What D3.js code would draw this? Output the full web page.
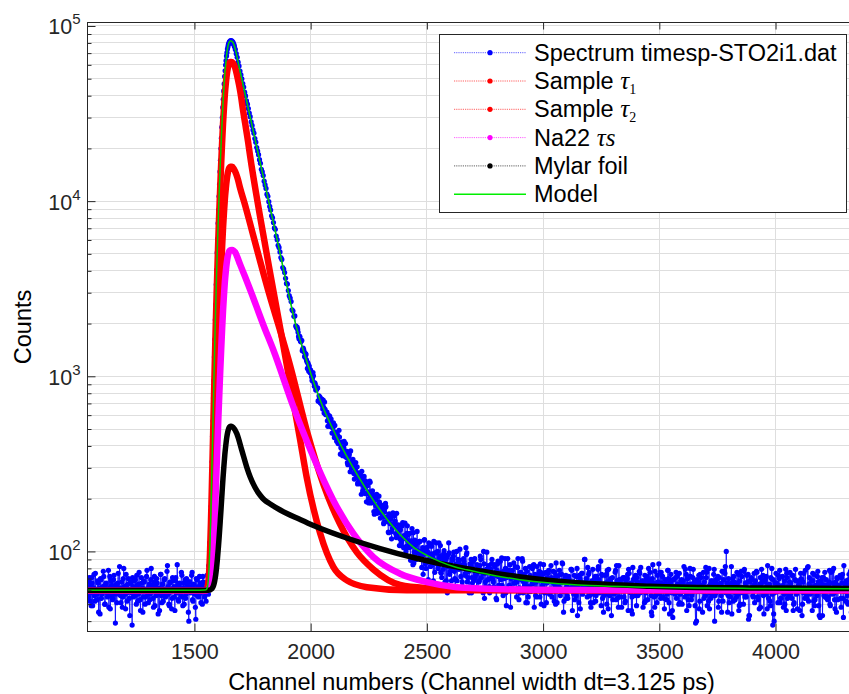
<!DOCTYPE html>
<html>
<head>
<meta charset="utf-8">
<script src="https://cdn.jsdelivr.net/npm/d3@7"></script>
<style>
body { margin: 0; background: #fff; }
svg { display: block; }
</style>
</head>
<body>
<div id="graph"></div>
<script>
// ---- data ----
var xTicks = [1500, 2000, 2500, 3000, 3500, 4000]
var yMajor = [1e2, 1e3, 1e4, 1e5]

// measured spectrum, stored in runs of evenly spaced channels
var specBaseStart = 1040, specBaseStep = 2
var specBase = [63,58,55,67,71,52,58,64,49,71,66,49,60,62,74,56,52,75,61,60,
  57,53,68,66,45,61,62,44,70,69,54,57,59,63,77,72,63,50,50,65,
  66,59,58,55,61,78,48,62,72,47,56,68,64,60,53,54,69,73,60,57,
  39,64,65,51,59,66,75,59,57,82,62,56,51,61,67,48,55,70,80,63,
  61,57,47,74,64,52,58,65,70,60,54,43,66,67,59,58,38,71,63,55,
  68,62,56,69,60,50,73,64,52,57,65,76,58,53,46,61,71,66,62,45,
  55,68,67,59,50,55,61,72,78,60,57,51,63,65,53,57,69,80,59,62,
  64,54,48,67,72,49,60,63,56,70,66,58,44,61,62,46,58,74,74,56,
  51,65,65,52,59,69,70,60,55,57,61,77,83,63,57,50,49,66,67,59,
  60,47,54,71,68,62,63,55,46,68,71,58,58,84,64,53,52,64,66,61,
  59,56,76,73,55,49,62,66,50,60,69,54,57,70,65,62,61,45,40,67,
  67,59,58,63,73,76,53,52,64,65,60,57,48,41,70,69,56,60,63,55,
  57,72,66,58,51,64,62,50,72,67,59,61,55,58]

var specRiseStart = 1548, specRiseStep = 2
var specRise = [66,52,63,73,58,67,57,83,82,112,
  113,156,181,260,325,455,555,752,944,1287,
  1623,2100,2569,3342,4050,5080,6090,7480,8890,10650,
  12450,14730,17090,19980,22880,26450,30010,34300,38180,42590,
  46700,51500,55520,59800,63400,67450,70520,73800,75900,78300,
  79500,80950,81400,82200,81950,82400,81800,81900,80800,80550,
  79050,78380,76450]

var specDecayStart = 1676, specDecayStep = 4
var specDecay = [73490,69475,66200,62180,59025,55280,52600,49940,46940,44840,
  41915,39860,37320,35760,33755,31810,30370,28360,27060,25505,
  24450,22750,21720,20230,19330,18415,17250,16435,15210,14690,
  13995,13000,12370,11820,10965,10655,9926,9332,8901,8246,
  8037,7554,7028,6909,6324,6028,5597,5438,5132,4766,
  4647,4175,4093,3910,3627,3389,3365,3085,2886,2798,
  2672,2395,2356,2201,2211,1943]

var specSlopeStart = 1938, specSlopeStep = 2
var specSlope = [1914,1892,1907,1857,1787,1689,1638,1694,1677,1592,1573,1604,1601,1400,1425,1450,1418,1378,1300,1284,
  1348,1333,1240,1212,1109,1195,1171,1069,1143,1097,1048,1085,1040,993,947,977,1050,1007,917,877,
  918,899,834,839,845,855,858,723,720,773,752,760,707,702,743,738,681,651,730,664,
  617,713,648,607,604,620,624,557,518,600,573,562,592,540,517,570,535,474,508,516,
  543,471,447,524,477,470,477,426,438,458,413,423,492,450,417,359,391,420,421,393,
  352,373,392,425,376,349,413,367,344,373,321,313,354,349,359,323,285,375,319,298,
  305,311,335,319,279,259,297,295,322,278,265,304,243,248,281,274,262,264,277,243,
  212,287,254,221,239,252,268,232,214,253,239,192,240,237,213,219,189,201,252,248,
  210,189,190,207,222,211,195,169,163,209,198,183,200,212,165,174,184,179,207,191,
  167,155]

// tail: channels 2304, 2308, ... and the channels in between (2306, 2310, ...)
var specTailStart = 2304, specTailStep = 4
var specTail = [181,173,157,147,177,180,157,148,128,158,153,118,136,140,160,149,120,123,134,133,
  118,108,142,146,105,120,121,107,140,125,110,106,115,135,84,86,116,110,98,101,
  113,114,90,93,98,74,116,104,80,98,99,112,91,82,107,97,68,89,98,112,
  85,80,112,94,76,71,92,97,87,85,68,58,96,98,77,78,91,90,99,70,
  69,100,84,80,89,84,62,67,83,88,73,105,98,71,77,80,84,58,66,88,
  90,71,74,84,61,67,83,90,77,75,100,54,67,79,77,83,63,70,79,90,
  69,63,82,76,53,85,72,64,88,76,64,56,74,91,58,71,91,78,76,48,
  62,78,73,66,82,72,67,91,53,58,76,74,88,67,64,80,69,51,55,71,
  73,61,65,83,84,68,56,55,69,73,77,85,50,62,74,49,61,76,66,68,
  78,57,59,71,68,77,52,64,86,51,66,73,62,66,74,85,45,59,71,54,
  56,71,69,62,79,78,63,57,53,66,72,43,65,73,47,67,75,62,60,90,
  67,60,81,74,56,51,64,64,51,69,72,56,61,79,69,61,88,74,54,45,
  57,66,74,78,47,57,67,70,64,53,60,63,78,83,54,48,69,67,62,62,
  71,55,51,67,65,74,79,59,58,46,44,69,70,62,63,71,56,58,75,81,
  61,60,68,51,52,69,72,64,66,76,56,43,84,66,48,56,63,73,58,62,
  76,76,61,55,54,65,66,53,78,70,44,67,64,46,69,63,57,76,72,58,
  50,51,68,69,62,64,59,79,74,57,53,49,80,65,56,71,64,60,39,40,
  67,67,47,74,71,59,64,54,60,81,76,62,52,47,65,68,56,64,79,56,
  58,70,72,52,63,66,45,59,69,77,82,100,60,56,51,63,66,44,70,72,
  64,58,55,66,74,49,50,77,62,62,77,55,58,73,67,41,43,68,71,62,
  55,75,65,60,76,53,61,65,48,79,68,56,57,69,72,47,63,64,52,71,
  80,38,44,58,66,66,59,73,70,51,54,62,64,57,50,79,75,54,61,67,
  57,63,73,46,51,69,68,59,63,65,46,75,69,50,58,61,78,55,54,82,
  65,57,60,68,75,52,49,64,62,72,67,43,42,66,71,60,56,76,64,54,
  53,64,78,49,58,77,66,58,47,67,71,53,61,62,54,71,74,42,59,65,
  68,56,50,74,63,61,74,50,56,68,60]

var specTailMidStart = 2306, specTailMidStep = 4
var specTailMid = [165,183,144,168,188,148,157,129,164,144,157,130,166,140,146,126,165,127,142,108,
  133,113,140,118,123,145,100,127,115,105,127,89,114,109,128,99,108,90,130,98,
  92,114,100,81,105,96,117,85,101,106,69,97,89,110,84,92,114,76,98,86,
  100,83,91,108,75,87,79,101,67,90,93,82,112,74,85,68,89,94,77,60,
  85,68,90,79,103,72,81,63,91,84,75,96,67,78,58,85,90,71,80,68,
  91,74,62,83,78,68,94,71,78,58,85,75,63,99,69,82,58,76,85,73,
  67,84,73,54,78,88,64,74,69,92,59,77,70,80,49,74,78,64,84,70,
  74,60,86,66,70,55,81,72,62,76,69,91,58,74,66,51,77,70,63,82,
  59,70,80,66,48,74,67,82,60,70,55,76,72,64,84,58,67,51,71,75,
  68,60,83,55,70,66,76,50,72,65,61,78,56,68,86,59,52,70,73,63,
  54,72,67,60,79,46,67,73,63,56,80,64,51,70,61,75,57,64,90,60,
  70,55,64,76,61,48,68,79,57,66,52,72,63,82,58,66,49,73,63,56,
  73,60,50,67,79,56,63,43,71,65,57,76,53,68,61,83,55,64,48,70,
  60,71,52,64,70,46,75,59,66,55,81,62,56,73,49,67,61,77,58,63,
  68,48,65,73,58,62,53,80,60,69,45,70,66,55,77,59,51,67,85,57,
  54,66,72,61,47,69,63,57,78,51,65,74,58,42,69,62,71,54,65,60,
  75,57,64,50,68,82,55,62,46,70,65,60,72,53,58,79,67,49,63,69,
  59,73,52,64,62,45,76,67,56,71,49,63,80,58,54,68,61,74,40,66,
  69,60,48,71,65,56,77,52,62,75,58,66,45,70,64,55,82,59,52,67,
  53,65,76,57,46,68,62,72,58,50,79,66,55,62,74,43,67,60,69,56,
  64,51,68,77,55,62,47,71,65,59,73,44,67,57,63,83,54,65,49,70,
  57,69,40,66,75,60,51,64,78,54,61,72,48,68,58,46,71,63,56,76,
  66,54,73,50,62,79,57,47,68,64,60,70,43,67,75,54,61,57,81,52,
  71,58,63,46,68,74,53,61,56,77,49,65,68,59,43,71,64,55,69,61,
  55,67,50,76,61,57,80,53,64,45,70,64,60,73,48,66,54,83,62,52,
  65,51,69,58,77,45,63,55,72,61]

// fitted components, [channel, counts]
var tau1Pts = [[1040,60],[1546,60],[1551,60.4],[1555,61.5],[1559,65.4],[1563,75.2],[1567,97.9],[1571,145],
  [1575,234],[1579,391],[1583,662],[1587,1106],[1591,1797],[1595,2812],[1599,4225],[1603,6221],[1607,8762],
  [1611,12070],[1615,16270],[1619,21420],[1623,27580],[1627,33920],[1631,40760],[1635,46800],[1639,52500],
  [1643,56900],[1647,60000],[1651,61670],[1655,62260],[1659,62280],[1666,61460],[1675,57920],[1683,52480],
  [1692,46030],[1701,39290],[1709,33110],[1718,27910],[1731,21740],[1739,18320],[1782,8230],[1825,3939],
  [1869,1886],[1912,902],[1955,432],[1983,265],[2041,126.7],[2098,81.3],[2156,68.3],[2242,62.5],
  [2414,60.1],[2815,60],[4344,60]]

var tau2Pts = [[1040,60],[1546,60],[1551,60.1],[1555,60.4],[1559,61.4],[1563,63.8],[1567,69.5],[1571,81.3],
  [1575,103.6],[1579,143.3],[1583,211],[1587,323],[1591,497],[1595,752],[1599,1107],[1603,1609],[1607,2248],
  [1611,3081],[1615,4135],[1619,5431],[1623,6981],[1627,8574],[1631,10290],[1635,11810],[1639,13250],
  [1643,14350],[1647,15130],[1651,15550],[1655,15700],[1662,15720],[1670,15240],[1679,14360],[1688,13180],
  [1696,11950],[1718,9487],[1739,7487],[1782,4571],[1825,2847],[1869,1820],[1912,1148],[1983,491],
  [2055,241.5],[2127,142.6],[2199,98.7],[2270,78.9],[2385,64.4],[2500,61.8],[2729,60.4],[3244,60],[4344,60]]

var na22Pts = [[1040,60],[1546,60],[1555,60.1],[1559,60.4],[1563,61.3],[1567,63.2],[1571,67.1],[1575,74.5],
  [1579,87.7],[1583,110.3],[1587,147.4],[1591,205],[1595,290],[1599,408],[1603,574.5],[1607,787],[1611,1063],
  [1615,1413],[1619,1844],[1623,2358],[1627,2888],[1631,3459],[1635,3963],[1639,4439],[1643,4807],
  [1647,5065],[1651,5205],[1655,5254],[1662,5265],[1668,5220],[1675,5112],[1684,4818],[1696,4365],
  [1718,3703],[1739,3142],[1797,1956],[1840,1408],[1926,668],[2012,345.8],[2098,195.6],[2184,126.2],
  [2270,92.8],[2385,74.6],[2500,66.8],[2629,62.5],[2729,61.5],[3073,60.2],[4344,60]]

var mylarPts = [[1040,60],[1560,60],[1575,61.3],[1579,62.4],[1583,64.4],[1587,67.7],[1591,72.8],[1595,80.3],
  [1599,90.7],[1603,105.4],[1607,124],[1611,148.4],[1615,179.3],[1619,217.2],[1623,262.6],[1627,309.3],
  [1631,359.6],[1635,404],[1639,446],[1643,478.4],[1647,501.2],[1651,513.5],[1655,518],[1659,518],
  [1666,511],[1682,472],[1704,377.6],[1725,303],[1740,265.9],[1761,231.7],[1782,209.9],[1800,197.1],
  [1826,186.5],[1869,172.4],[1955,152.1],[2012,140.6],[2155,119.3],[2299,103.9],[2442,92.3],[2586,83.6],
  [2729,77.3],[3030,68.2],[3460,63.3],[3891,61.8],[4344,61.3]]

var modelPts = [[1040,60],[1500,60],[1546,60.2],[1551,60.5],[1555,62],[1559,67.1],[1563,80],[1567,110],
  [1571,172],[1575,289],[1579,497],[1583,854],[1587,1440],[1591,2351],[1595,3691],[1599,5555],[1603,8188],
  [1607,11540],[1611,15910],[1615,21440],[1619,28240],[1623,36370],[1627,44730],[1631,53760],[1635,61720],
  [1639,69240],[1643,75050],[1647,79130],[1651,81340],[1655,82120],[1658,82180],[1662,81660],[1666,80350],
  [1670,78160],[1674,75160],[1678,71610],[1682,67760],[1686,64060],[1690,60530],[1696,55590],[1740,30160],
  [1800,13090],[1860,5687],[1937,1945],[1989,1156],[2041,729],[2113,448],[2199,276],[2270,195.6],
  [2356,137.7],[2442,105.8],[2500,95],[2557,87.5],[2615,82],[2672,78.5],[2729,75.5],[2800,72.5],
  [2900,69],[3030,66],[3200,63.8],[3460,62.5],[3700,61.8],[3891,61.5],[4344,61.1]]

// ---- layout ----
var width = 849, height = 694
var plotLeft = 87.5, plotRight = 855.5, plotTop = 22.5, plotBottom = 631.5
var sans = "Arial, 'Liberation Sans', Helvetica, sans-serif"
var serif = "'Times New Roman', 'Liberation Serif', serif"
var ink = "#262626"
var gridColor = "#dedede"

var svg = d3.select("#graph").append("svg")
    .attr("width", width).attr("height", height)
svg.append("rect").attr("width", width).attr("height", height).attr("fill", "#fff")

var x = d3.scaleLinear().domain([1040, 4344]).range([plotLeft, plotRight])
var y = d3.scaleLog().domain([34.9, 104700]).range([plotBottom, plotTop])

var crisp = function(v) { return Math.round(v - 0.5) + 0.5 }

// grid
var allY = y.ticks()
var yMinor = allY.filter(function(d) { return yMajor.indexOf(d) < 0 })
var grid = svg.append("g").attr("stroke", gridColor).attr("stroke-width", 1)
grid.selectAll("line.h").data(allY).enter().append("line")
    .attr("x1", plotLeft).attr("x2", plotRight)
    .attr("y1", function(d) { return crisp(y(d)) })
    .attr("y2", function(d) { return crisp(y(d)) })
grid.selectAll("line.v").data(xTicks).enter().append("line")
    .attr("y1", plotTop).attr("y2", plotBottom)
    .attr("x1", function(d) { return crisp(x(d)) })
    .attr("x2", function(d) { return crisp(x(d)) })

// data
svg.append("clipPath").attr("id", "clip").append("rect")
    .attr("x", plotLeft).attr("y", plotTop)
    .attr("width", plotRight - plotLeft).attr("height", plotBottom - plotTop)
var plot = svg.append("g").attr("clip-path", "url(#clip)")

var spectrum = []
;[[specBaseStart, specBaseStep, specBase], [specRiseStart, specRiseStep, specRise],
  [specDecayStart, specDecayStep, specDecay], [specSlopeStart, specSlopeStep, specSlope],
  [specTailStart, specTailStep, specTail], [specTailMidStart, specTailMidStep, specTailMid]]
  .forEach(function(seg) {
    seg[2].forEach(function(v, i) { spectrum.push([seg[0] + i * seg[1], v]) })
  })
spectrum.sort(function(a, b) { return a[0] - b[0] })

var line = d3.line().x(function(d) { return x(d[0]) }).y(function(d) { return y(d[1]) })
var smooth = d3.line().x(function(d) { return x(d[0]) }).y(function(d) { return y(d[1]) })
    .curve(d3.curveMonotoneX)

plot.append("path").datum(spectrum).attr("d", line)
    .attr("fill", "none").attr("stroke", "#0000ff").attr("stroke-width", 0.8)
plot.append("g").selectAll("circle").data(spectrum).enter().append("circle")
    .attr("cx", function(d) { return x(d[0]) })
    .attr("cy", function(d) { return y(d[1]) })
    .attr("r", 2.6).attr("fill", "#0000ff")

var comps = [
  { pts: tau1Pts, color: "#ff0000", w: 6.5 },
  { pts: tau2Pts, color: "#ff0000", w: 6.5 },
  { pts: na22Pts, color: "#ff00ff", w: 6.5 },
  { pts: mylarPts, color: "#000000", w: 5.5 },
  { pts: modelPts, color: "#00d000", w: 1.5 }
]
comps.forEach(function(c) {
  plot.append("path").datum(c.pts).attr("d", smooth)
      .attr("fill", "none").attr("stroke", c.color).attr("stroke-width", c.w)
      .attr("stroke-linejoin", "round").attr("stroke-linecap", "round")
})

// axes (ticks point inwards)
function styleAxis(g) {
  g.attr("font-family", sans).attr("color", ink)
  g.select(".domain").remove()
}
svg.append("g").attr("transform", "translate(0," + plotBottom + ")")
    .call(d3.axisBottom(x).tickValues(xTicks).tickSize(-8).tickPadding(12).tickFormat(d3.format("d")))
    .call(styleAxis).attr("font-size", 21.5)
svg.append("g").attr("transform", "translate(0," + plotTop + ")")
    .call(d3.axisTop(x).tickValues(xTicks).tickSize(-7).tickFormat(""))
    .call(styleAxis)
svg.append("g").attr("transform", "translate(" + plotLeft + ",0)")
    .call(d3.axisLeft(y).tickValues(yMajor).tickSize(-8).tickFormat(""))
    .call(styleAxis)
svg.append("g").attr("transform", "translate(" + plotLeft + ",0)")
    .call(d3.axisLeft(y).tickValues(yMinor).tickSize(-4).tickFormat(""))
    .call(styleAxis)

svg.append("rect")
    .attr("x", plotLeft).attr("y", plotTop)
    .attr("width", plotRight - plotLeft).attr("height", plotBottom - plotTop)
    .attr("fill", "none").attr("stroke", ink).attr("stroke-width", 1)

// y tick labels as 10^n
var yLab = svg.append("g").attr("font-family", sans).attr("fill", ink)
    .selectAll("text").data(yMajor).enter().append("text")
    .attr("x", plotLeft - 7).attr("y", function(d) { return y(d) + 8.5 })
    .attr("text-anchor", "end").attr("font-size", 21.5)
yLab.append("tspan").text("10")
yLab.append("tspan").attr("dy", -10).attr("font-size", 15)
    .text(function(d) { return Math.round(Math.log10(d)) })

// axis titles
svg.append("text").attr("x", (plotLeft + plotRight) / 2).attr("y", 690)
    .attr("text-anchor", "middle").attr("font-family", sans).attr("font-size", 23.5).attr("fill", "#000")
    .text("Channel numbers (Channel width dt=3.125 ps)")
svg.append("text")
    .attr("transform", "translate(31," + ((plotTop + plotBottom) / 2) + ") rotate(-90)")
    .attr("text-anchor", "middle").attr("font-family", sans).attr("font-size", 23.5).attr("fill", "#000")
    .text("Counts")

// legend
var legendItems = [
  { parts: [{ t: "Spectrum timesp-STO2i1.dat" }], color: "#0000ff", marker: true },
  { parts: [{ t: "Sample " }, { t: "\u03c4", it: true }, { t: "1", sub: true }], color: "#ff0000", marker: true },
  { parts: [{ t: "Sample " }, { t: "\u03c4", it: true }, { t: "2", sub: true }], color: "#ff0000", marker: true },
  { parts: [{ t: "Na22 " }, { t: "\u03c4s", it: true }], color: "#ff00ff", marker: true },
  { parts: [{ t: "Mylar foil" }], color: "#000000", marker: true },
  { parts: [{ t: "Model" }], color: "#00ee00", marker: false }
]
var legend = svg.append("g")
legend.append("rect").attr("x", 439.5).attr("y", 34.5).attr("width", 407).attr("height", 178)
    .attr("fill", "#fff").attr("stroke", ink).attr("stroke-width", 1)
var rows = legend.selectAll("g.row").data(legendItems).enter().append("g")
    .attr("transform", function(d, i) { return "translate(0," + (52.7 + i * 28.3) + ")" })
rows.append("line").attr("x1", 454).attr("x2", 526).attr("y1", 0).attr("y2", 0)
    .attr("stroke", function(d) { return d.color })
    .attr("stroke-width", function(d) { return d.marker ? 0.9 : 1.6 })
    .attr("stroke-opacity", function(d) { return d.marker ? 0.7 : 1 })
    .attr("stroke-dasharray", function(d) { return d.marker ? "1.2,1" : null })
rows.filter(function(d) { return d.marker }).append("circle")
    .attr("cx", 490).attr("cy", 0).attr("r", 2.6).attr("fill", function(d) { return d.color })
var labels = rows.append("text").attr("x", 534).attr("y", 8)
    .attr("font-family", sans).attr("font-size", 23.5).attr("fill", "#000")
labels.selectAll("tspan").data(function(d) { return d.parts }).enter().append("tspan")
    .attr("font-family", function(p) { return (p.it || p.sub) ? serif : null })
    .attr("font-style", function(p) { return p.it ? "italic" : null })
    .attr("font-size", function(p) { return p.sub ? 14 : (p.it ? 25 : null) })
    .attr("dy", function(p) { return p.sub ? 5 : null })
    .text(function(p) { return p.t })
</script>
</body>
</html>
